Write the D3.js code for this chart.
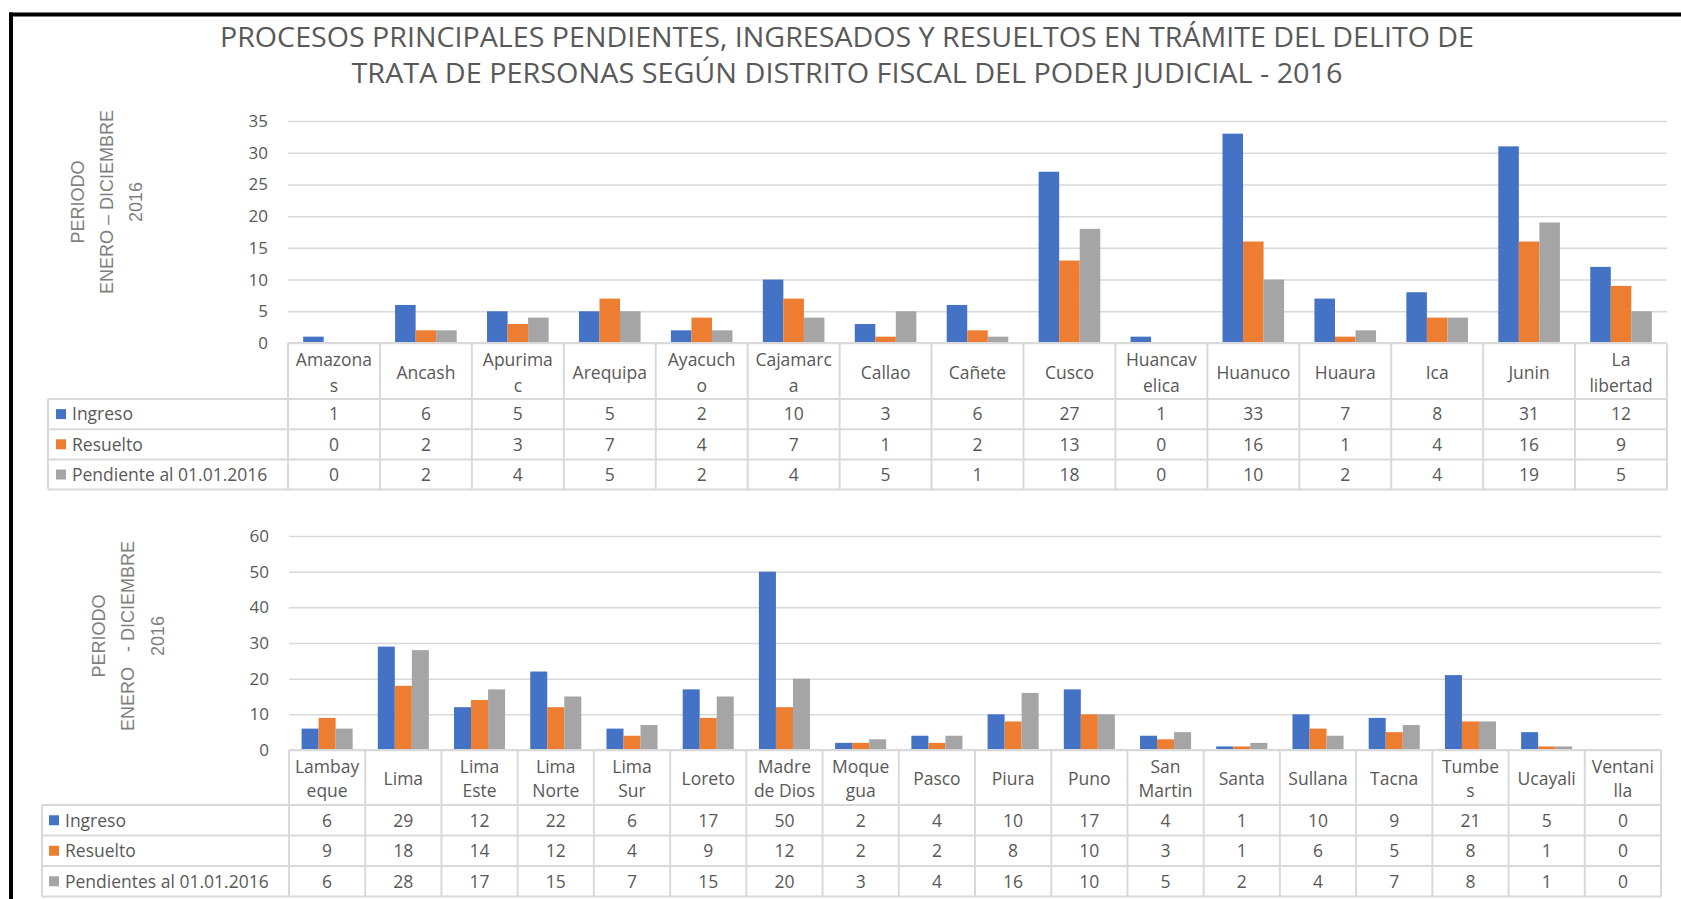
<!DOCTYPE html>
<html>
<head>
<meta charset="utf-8">
<script src="https://cdn.jsdelivr.net/npm/d3@7"></script>
<style>
  html, body { margin: 0; padding: 0; background: #fff; }
  svg { display: block; }
  text { font-family: "Open Sans", "Liberation Sans", Arial, sans-serif; }
</style>
</head>
<body>
<div id="chart"></div>
<script>
// ---- data ----
var titleLines = [
    "PROCESOS PRINCIPALES PENDIENTES, INGRESADOS Y RESUELTOS EN TRÁMITE DEL DELITO DE",
    "TRATA DE PERSONAS SEGÚN DISTRITO FISCAL DEL PODER JUDICIAL - 2016"
];
var seriesColors = ["#4472C4", "#ED7D31", "#A5A5A5"];

var topCategories = ["Amazonas", "Ancash", "Apurimac", "Arequipa", "Ayacucho", "Cajamarca", "Callao",
    "Cañete", "Cusco", "Huancavelica", "Huanuco", "Huaura", "Ica", "Junin", "La libertad"];
var topCatLabels = [["Amazona", "s"], ["Ancash"], ["Apurima", "c"], ["Arequipa"], ["Ayacuch", "o"],
    ["Cajamarc", "a"], ["Callao"], ["Cañete"], ["Cusco"], ["Huancav", "elica"], ["Huanuco"],
    ["Huaura"], ["Ica"], ["Junin"], ["La", "libertad"]];
var topSeriesNames = ["Ingreso", "Resuelto", "Pendiente al 01.01.2016"];
var topIngreso   = [1, 6, 5, 5, 2, 10, 3, 6, 27, 1, 33, 7, 8, 31, 12];
var topResuelto  = [0, 2, 3, 7, 4, 7, 1, 2, 13, 0, 16, 1, 4, 16, 9];
var topPendiente = [0, 2, 4, 5, 2, 4, 5, 1, 18, 0, 10, 2, 4, 19, 5];
var topTicks = [0, 5, 10, 15, 20, 25, 30, 35];
var topAxisTitle = ["PERIODO", "ENERO – DICIEMBRE", "2016"];

var botCategories = ["Lambayeque", "Lima", "Lima Este", "Lima Norte", "Lima Sur", "Loreto", "Madre de Dios",
    "Moquegua", "Pasco", "Piura", "Puno", "San Martin", "Santa", "Sullana", "Tacna", "Tumbes", "Ucayali", "Ventanilla"];
var botCatLabels = [["Lambay", "eque"], ["Lima"], ["Lima", "Este"], ["Lima", "Norte"], ["Lima", "Sur"],
    ["Loreto"], ["Madre", "de Dios"], ["Moque", "gua"], ["Pasco"], ["Piura"], ["Puno"], ["San", "Martin"],
    ["Santa"], ["Sullana"], ["Tacna"], ["Tumbe", "s"], ["Ucayali"], ["Ventani", "lla"]];
var botSeriesNames = ["Ingreso", "Resuelto", "Pendientes al 01.01.2016"];
var botIngreso   = [6, 29, 12, 22, 6, 17, 50, 2, 4, 10, 17, 4, 1, 10, 9, 21, 5, 0];
var botResuelto  = [9, 18, 14, 12, 4, 9, 12, 2, 2, 8, 10, 3, 1, 6, 5, 8, 1, 0];
var botPendiente = [6, 28, 17, 15, 7, 15, 20, 3, 4, 16, 10, 5, 2, 4, 7, 8, 1, 0];
var botTicks = [0, 10, 20, 30, 40, 50, 60];
var botAxisTitle = ["PERIODO", "ENERO   - DICIEMBRE", "2016"];

var W = 1681, H = 899;
var textColor = "#595959";
var lineColor = "#d9d9d9";

var svg = d3.select("#chart").append("svg").attr("width", W).attr("height", H);

// black frame (top and left only are visible)
svg.append("line").attr("x1", 9).attr("x2", W).attr("y1", 14.5).attr("y2", 14.5)
    .attr("stroke", "#000").attr("stroke-width", 4);
svg.append("line").attr("x1", 11).attr("x2", 11).attr("y1", 12.5).attr("y2", H)
    .attr("stroke", "#000").attr("stroke-width", 4);

// title
var titleY = [47, 83];
var titleW = [1254, 991];
titleLines.forEach(function(t, i) {
    svg.append("text")
        .attr("x", 847).attr("y", titleY[i])
        .attr("text-anchor", "middle")
        .attr("font-size", 28)
        .attr("fill", textColor)
        .attr("textLength", titleW[i])
        .attr("lengthAdjust", "spacingAndGlyphs")
        .text(t);
});

function drawPanel(p) {
    var g = svg.append("g");
    var rows = p.series.length;

    var x = d3.scaleBand().domain(p.categories).range([p.x0, p.x1]).padding(0);
    var bw = x.bandwidth();
    var xs = d3.scaleBand().domain(d3.range(rows)).range([bw * 0.165, bw * 0.835]).padding(0);
    var y = d3.scaleLinear().domain([0, p.max]).range([p.yBase, p.yTop]);

    // gridlines + tick labels
    var yAxis = d3.axisLeft(y).tickValues(p.ticks).tickSize(-(p.x1 - p.x0)).tickPadding(20);
    var ax = g.append("g").attr("transform", "translate(" + p.x0 + ",0)").call(yAxis);
    ax.select(".domain").remove();
    ax.selectAll(".tick line").attr("stroke", lineColor).attr("stroke-width", 1.5);
    ax.selectAll(".tick text").attr("font-size", 17).attr("fill", textColor)
        .style("font-family", "'Open Sans', sans-serif");

    // bars
    p.series.forEach(function(vals, si) {
        g.selectAll(".bar" + si)
            .data(vals)
            .enter()
            .append("rect")
            .attr("x", function(d, i) { return x(p.categories[i]) + xs(si); })
            .attr("y", function(d) { return y(d); })
            .attr("width", xs.bandwidth())
            .attr("height", function(d) { return p.yBase - y(d); })
            .attr("fill", seriesColors[si]);
    });

    // data table
    var tableBottom = p.headerBottom + rows * p.rowH;
    var tl = g.append("g").attr("stroke", lineColor).attr("stroke-width", 2);
    tl.append("line").attr("x1", p.x0).attr("x2", p.x1).attr("y1", p.yBase).attr("y2", p.yBase);
    for (var r = 0; r <= rows; r++) {
        var yy = p.headerBottom + r * p.rowH;
        tl.append("line").attr("x1", p.tableLeft).attr("x2", p.x1).attr("y1", yy).attr("y2", yy);
    }
    tl.append("line").attr("x1", p.tableLeft).attr("x2", p.tableLeft)
        .attr("y1", p.headerBottom).attr("y2", tableBottom);
    p.categories.forEach(function(c) {
        tl.append("line").attr("x1", x(c)).attr("x2", x(c)).attr("y1", p.yBase).attr("y2", tableBottom);
    });
    tl.append("line").attr("x1", p.x1).attr("x2", p.x1).attr("y1", p.yBase).attr("y2", tableBottom);

    // category labels (wrapped like the original)
    var mid = (p.yBase + p.headerBottom) / 2 + 1.5;
    p.categories.forEach(function(c, i) {
        var lines = p.labels[i];
        lines.forEach(function(l, li) {
            var ly = lines.length === 1 ? mid : mid + (li === 0 ? -p.lineGap / 2 : p.lineGap / 2);
            g.append("text")
                .attr("x", x(c) + bw / 2).attr("y", ly).attr("dy", "0.36em")
                .attr("text-anchor", "middle")
                .attr("font-size", 17.5).attr("fill", textColor)
                .text(l);
        });
    });

    // rows: legend key + values
    p.series.forEach(function(vals, si) {
        var cy = p.headerBottom + si * p.rowH + p.rowH / 2;
        g.append("rect").attr("x", p.legendX).attr("y", cy - 5).attr("width", 10).attr("height", 10)
            .attr("fill", seriesColors[si]);
        g.append("text").attr("x", p.legendX + 16).attr("y", cy).attr("dy", "0.36em")
            .attr("font-size", 17.5).attr("fill", textColor).text(p.names[si]);
        g.selectAll(".val" + si)
            .data(vals)
            .enter()
            .append("text")
            .attr("x", function(d, i) { return x(p.categories[i]) + bw / 2; })
            .attr("y", cy).attr("dy", "0.36em")
            .attr("text-anchor", "middle")
            .attr("font-size", 17.5).attr("fill", textColor)
            .text(function(d) { return d; });
    });

    // rotated axis title
    p.axisTitle.forEach(function(t, i) {
        g.append("text")
            .attr("transform", "translate(" + p.titleX[i] + "," + p.titleY + ") rotate(-90)")
            .attr("dy", "0.36em")
            .attr("text-anchor", "middle")
            .attr("font-size", 18)
            .attr("fill", "#7f7f7f")
            .style("font-family", "'Liberation Sans', Arial, sans-serif")
            .style("white-space", "pre")
            .text(t);
    });
}

drawPanel({
    categories: topCategories, labels: topCatLabels, names: topSeriesNames,
    series: [topIngreso, topResuelto, topPendiente], ticks: topTicks, max: 35,
    axisTitle: topAxisTitle,
    x0: 288, x1: 1667, yTop: 121, yBase: 343,
    headerBottom: 399, rowH: 30.2, lineGap: 26,
    tableLeft: 48, legendX: 56,
    titleX: [78, 107, 136], titleY: 202
});

drawPanel({
    categories: botCategories, labels: botCatLabels, names: botSeriesNames,
    series: [botIngreso, botResuelto, botPendiente], ticks: botTicks, max: 60,
    axisTitle: botAxisTitle,
    x0: 289, x1: 1661, yTop: 536, yBase: 750,
    headerBottom: 805, rowH: 30.5, lineGap: 24,
    tableLeft: 42, legendX: 49,
    titleX: [99, 128, 158], titleY: 636
});
</script>
</body>
</html>
